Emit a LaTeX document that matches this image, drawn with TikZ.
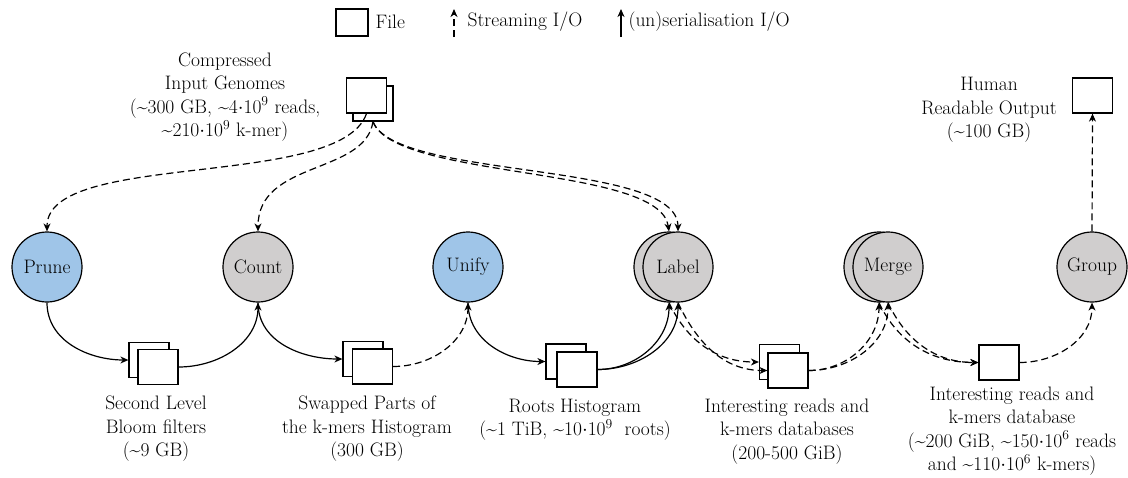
\documentclass[tikz,border=0pt]{standalone}
\usetikzlibrary{arrows.meta}
\definecolor{procblue}{RGB}{159,197,232}
\definecolor{procgray}{RGB}{208,206,206}
\newcommand{\tl}{\textasciitilde}
\begin{document}
\begin{tikzpicture}[x=1pt,y=-1pt,
  font=\rmfamily\fontsize{19.5}{23.5}\selectfont,
  every path/.style={line width=1.2pt},
  tip/.style={-{Stealth[length=8pt,width=7pt,inset=2.5pt]}},
  proc/.style={circle,draw,line width=1.2pt,minimum size=70pt,inner sep=0pt},
  filebox/.style={draw,fill=white,line width=1.2pt,minimum width=40pt,minimum height=35pt,inner sep=0pt},
  lbl/.style={align=center,inner sep=0pt},
  stream/.style={tip,dash pattern=on 7pt off 4pt},
  ser/.style={tip}]
\useasboundingbox (0,0) rectangle (1128,477);

% legend
\node[filebox,minimum width=32pt,minimum height=27pt] (legfile) at (352,22.5) {};
\node[anchor=west,inner sep=0pt] (legfiletxt) at (375,22) {File};
\coordinate (ls1) at (454,37);
\coordinate (ls2) at (454,9);
\draw[stream] (ls1) -- (ls2);
\node[anchor=west,inner sep=0pt] (legstream) at (467,22) {Streaming I/O};
\coordinate (lu1) at (621,37);
\coordinate (lu2) at (621,9);
\draw[ser] (lu1) -- (lu2);
\node[anchor=west,inner sep=0pt] (legser) at (628,22) {(un)serialisation I/O};

% processes
\node[proc,fill=procblue] (prune) at (47,267) {Prune};
\node[proc,fill=procgray] (count) at (258,267) {Count};
\node[proc,fill=procblue] (unify) at (468,267) {Unify};
\node[proc,fill=procgray] (labelB) at (669,267) {};
\node[proc,fill=procgray] (label) at (678,267) {Label};
\node[proc,fill=procgray] (mergeB) at (879,267) {};
\node[proc,fill=procgray] (merge) at (888,267) {Merge};
\node[proc,fill=procgray] (group) at (1092,267) {Group};

% files
\node[filebox] (inB) at (373,103.5) {};
\node[filebox] (inF) at (366.5,95.5) {};
\node[filebox] (bloomB) at (149,360) {};
\node[filebox] (bloomF) at (158,367) {};
\node[filebox] (swapB) at (363,359) {};
\node[filebox] (swapF) at (372.5,366.5) {};
\node[filebox] (rootsB) at (566,361.5) {};
\node[filebox] (rootsF) at (577,369.5) {};
\node[filebox] (dbB) at (779.5,362) {};
\node[filebox] (dbF) at (788,370.5) {};
\node[filebox] (db) at (999,362.5) {};
\node[filebox] (human) at (1092.5,95.5) {};

% labels
\node[lbl] (inlbl) at (225,97) {Compressed\\Input Genomes\\(\tl300 GB, \tl4$\cdot$10\textsuperscript{9} reads,\\\tl210$\cdot$10\textsuperscript{9} k-mer)};
\node[lbl] (bloomlbl) at (156,429) {Second Level\\Bloom filters\\(\tl9 GB)};
\node[lbl] (swaplbl) at (367,429) {Swapped Parts of\\the k-mers Histogram\\(300 GB)};
\node[lbl] (rootslbl) at (575,420) {Roots Histogram\\(\tl1 TiB, \tl10$\cdot$10\textsuperscript{9}\ \ roots)};
\node[lbl] (dblbl) at (787,431.5) {Interesting reads and\\k-mers databases\\(200-500 GiB)};
\node[lbl] (dbslbl) at (1012,431) {Interesting reads and\\k-mers database\\(\tl200 GiB, \tl150$\cdot$10\textsuperscript{6} reads\\and \tl110$\cdot$10\textsuperscript{6} k-mers)};
\node[lbl] (humanlbl) at (989,110) {Human\\Readable Output\\(\tl100 GB)};

% input connectors
\draw[stream] (inF.south) .. controls (340,190) and (47,150) .. (prune.north);
\draw[stream] (inB.south) .. controls (365,175) and (258,160) .. (count.north);
\draw[stream] (inB.south) .. controls (395,180) and (660,165) .. (labelB.north);
\draw[stream] (inB.south) .. controls (395,180) and (678,160) .. (label.north);

% pipeline
\draw[ser] (prune.south) to[out=-90,in=180] (bloomB.west);
\draw[ser] (bloomF.east) to[out=0,in=-90] (count.south);
\draw[ser] (count.south) to[out=-90,in=180] (swapB.west);
\draw[stream] (swapF.east) to[out=0,in=-90] (unify.south);
\draw[ser] (unify.south) to[out=-90,in=180] (rootsB.west);
\draw[ser] (rootsF.east) to[out=0,in=-90] (labelB.south);
\draw[ser] (rootsF.east) to[out=0,in=-90] (label.south);
\draw[stream] (labelB.south) to[out=-65,in=180] (dbB.west);
\draw[stream] (label.south) to[out=-65,in=180] (dbF.west);
\draw[stream] (dbF.east) to[out=0,in=-90] (mergeB.south);
\draw[stream] (dbF.east) to[out=0,in=-90] (merge.south);
\draw[stream] (mergeB.south) to[out=-65,in=180] (db.west);
\draw[stream] (merge.south) to[out=-65,in=180] (db.west);
\draw[stream] (db.east) to[out=0,in=-90] (group.south);
\draw[stream] (group.north) -- (human.south);
\end{tikzpicture}
\end{document}
